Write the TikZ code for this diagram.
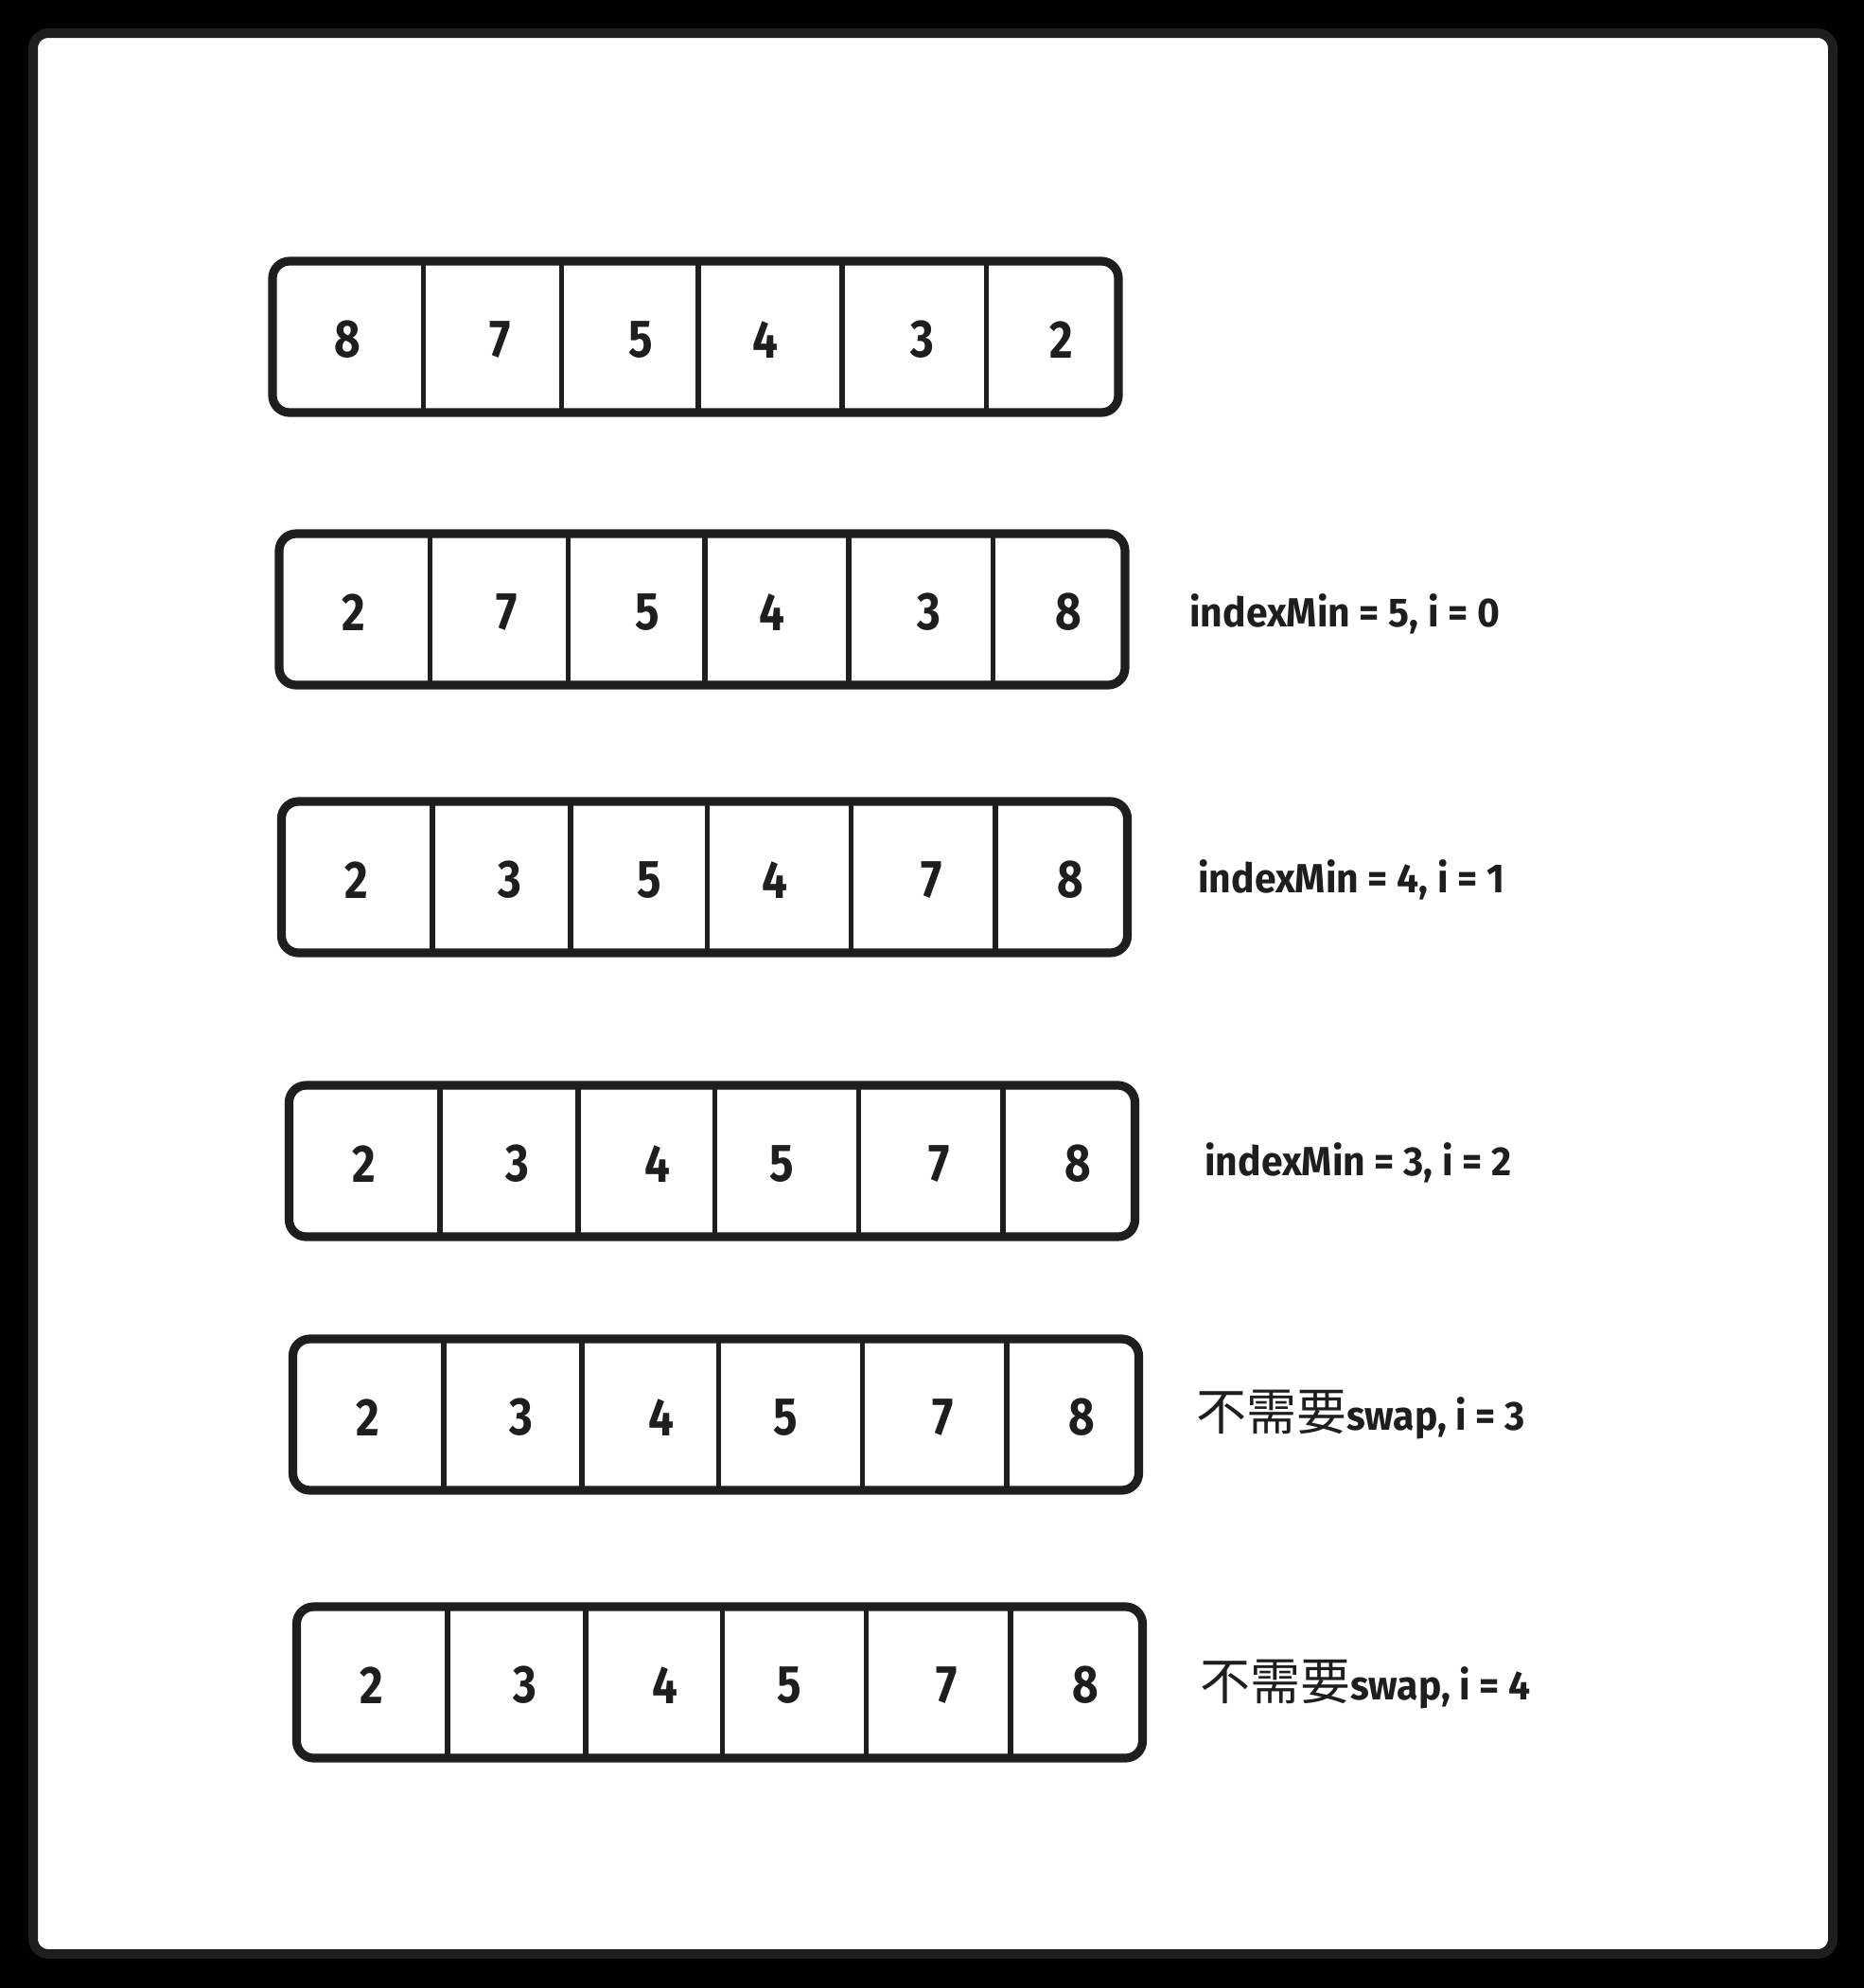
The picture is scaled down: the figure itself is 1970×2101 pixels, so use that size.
\documentclass[tikz,border=0pt]{standalone}
\usepackage{fontspec}
\newfontfamily\handfont[FakeStretch=0.95]{Fira Sans}
\newfontfamily\digitfont[FakeStretch=0.85]{Fira Sans}
\newfontfamily\cjkfont{Noto Sans CJK SC}
\definecolor{ink}{HTML}{1E1E1E}
\begin{document}
\begin{tikzpicture}[x=0.5pt,y=-0.5pt,
  arraybox/.style={draw=ink,line width=4.6pt,rounded corners=9pt,fill=white},
  divider/.style={draw=ink,line width=2.8pt,line cap=round},
  digit/.style={text=ink,font=\digitfont\bfseries\fontsize{28}{28}\selectfont,inner sep=0pt},
  steplabel/.style={text=ink,font=\handfont\bfseries\fontsize{21.5}{21.5}\selectfont,inner sep=0pt,anchor=base west}]
\fill[black] (0,0) rectangle (1970,2101);
\useasboundingbox (0,0) rectangle (1970,2101);
\draw[draw=ink,fill=white,line width=5pt,rounded corners=8pt] (35,35) rectangle (1937,2065);
\foreach \r/\L/\T/\a/\b/\c/\d/\e/\f in {
  1/284/272/8/7/5/4/3/2,
  2/291/560/2/7/5/4/3/8,
  3/293.5/843/2/3/5/4/7/8,
  4/301.5/1143/2/3/4/5/7/8,
  5/305.5/1411/2/3/4/5/7/8,
  6/309.5/1694/2/3/4/5/7/8} {
  \draw[arraybox] (\L+4,\T+4) rectangle (\L+898,\T+164);
  \foreach \dx in {163.5,309.5,454,606,758.5}
    \draw[divider] (\L+\dx,\T+7) -- (\L+\dx,\T+161);
  \node[digit] (r\r c1) at (\L+83,\T+87) {\a};
  \node[digit] (r\r c2) at (\L+245,\T+87) {\b};
  \node[digit] (r\r c3) at (\L+393,\T+87) {\c};
  \node[digit] (r\r c4) at (\L+525,\T+87) {\d};
  \node[digit] (r\r c5) at (\L+691,\T+87) {\e};
  \node[digit] (r\r c6) at (\L+838,\T+87) {\f};
}
\node[steplabel] (lab2) at (1257,662) {indexMin = 5, i = 0};
\node[steplabel] (lab3) at (1266,943) {indexMin = 4, i = 1};
\node[steplabel] (lab4) at (1273,1242) {indexMin = 3, i = 2};
\node[steplabel] (lab5) at (1264,1511) {{\cjkfont\mdseries\fontsize{26.5}{26.5}\selectfont 不需要}swap, i = 3};
\node[steplabel] (lab6) at (1268,1796) {{\cjkfont\mdseries\fontsize{26.5}{26.5}\selectfont 不需要}swap, i = 4};
\end{tikzpicture}
\end{document}
